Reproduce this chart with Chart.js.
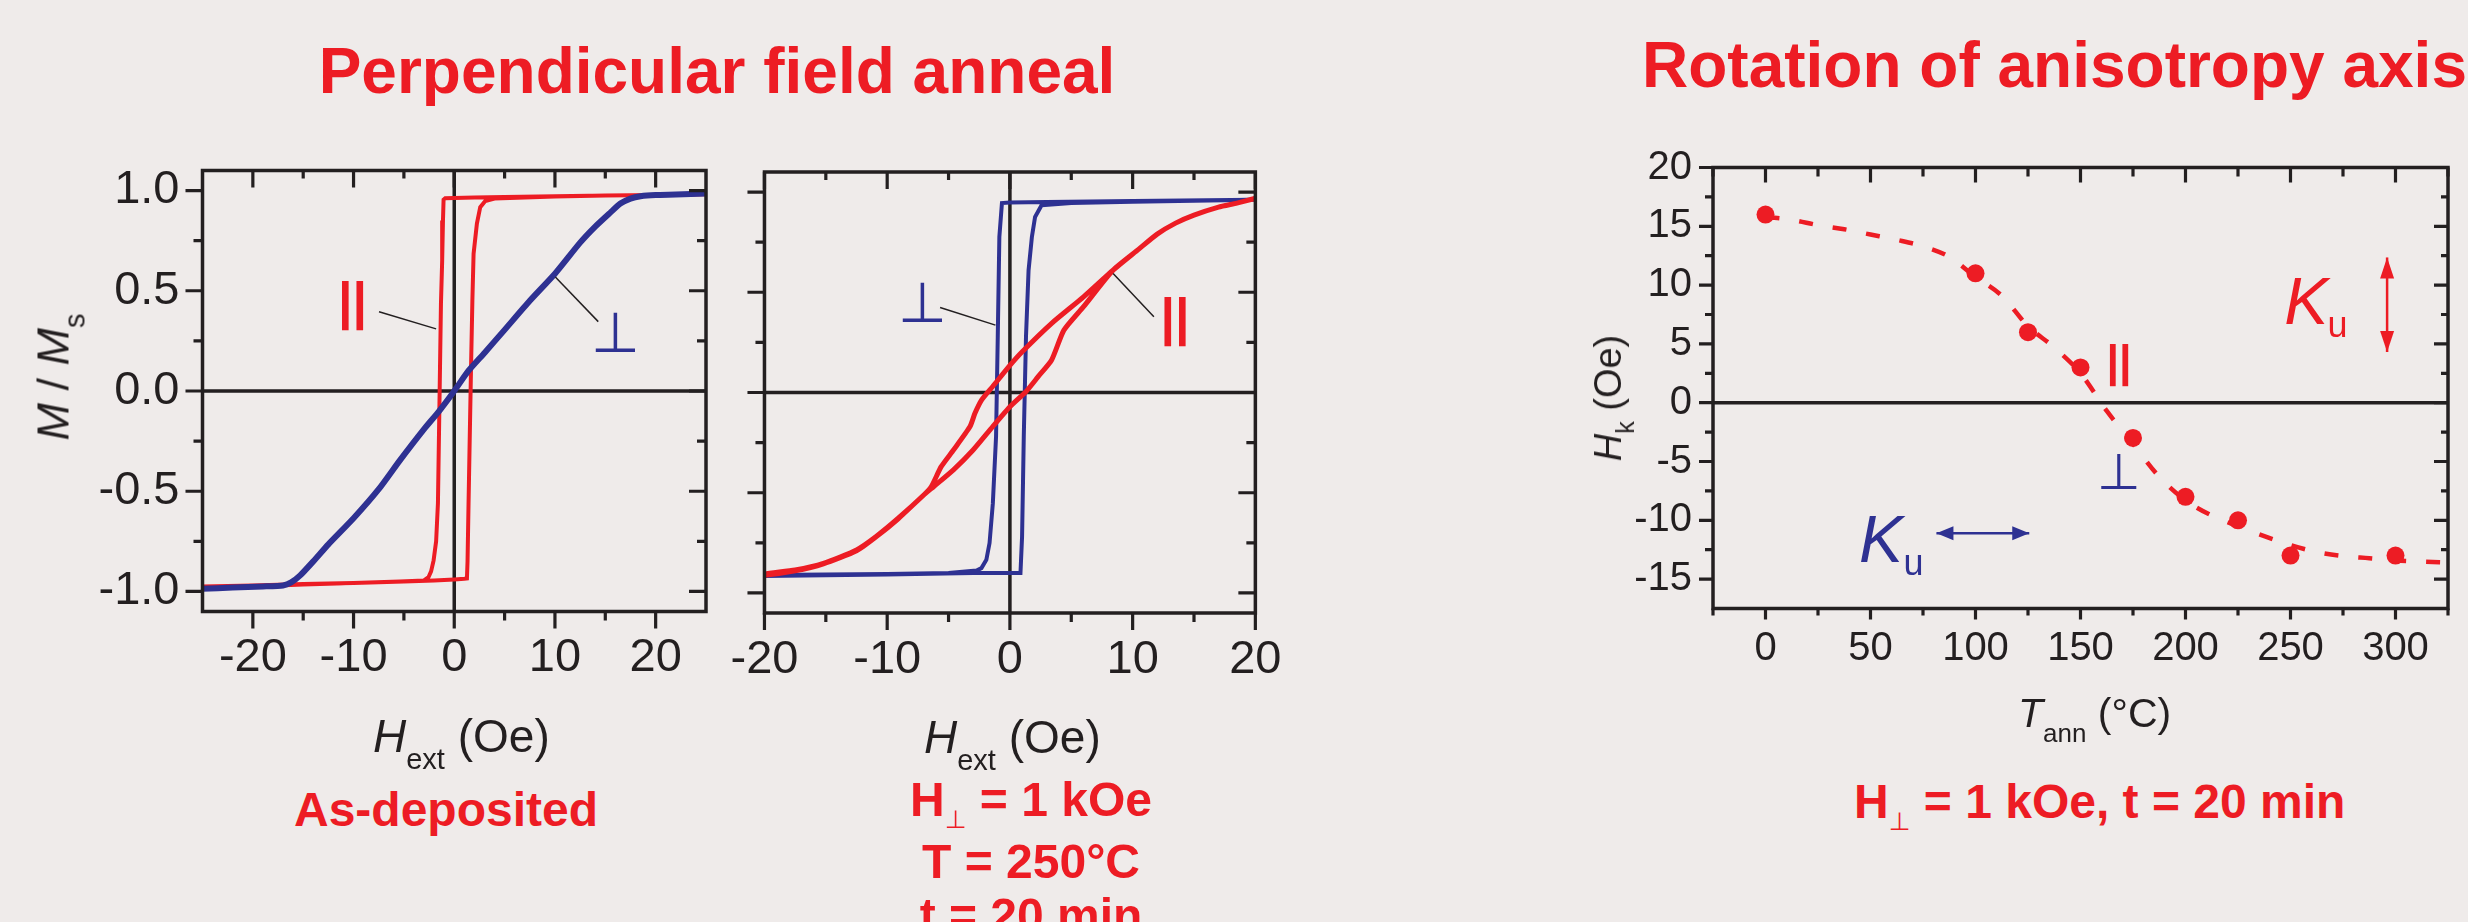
<!DOCTYPE html>
<html>
<head>
<meta charset="utf-8">
<script src="https://cdn.jsdelivr.net/npm/chart.js@4.4.1/dist/chart.umd.min.js"></script>
<style>
  html, body { margin: 0; padding: 0; background: #EFEBEA; overflow: hidden; }
  #page { position: relative; width: 2468px; height: 922px; overflow: hidden; background: #EFEBEA; }
  canvas { position: absolute; }
  .t { position: absolute; white-space: nowrap; font-family: 'Liberation Sans', Arial, sans-serif; line-height: 1; color: #231F20; }
  .red { color: #ED1C24; font-weight: bold; }
  .sub { position: relative; }
  .perp { position: relative; font-family: 'DejaVu Sans', sans-serif; font-weight: normal; }
  .rot { transform: translate(-50%, -50%) rotate(-90deg); }
</style>
</head>
<body>
<div id="page">
  <canvas id="asdep" width="712" height="620" style="left:0;top:100px"></canvas>
  <canvas id="annealed" width="588" height="620" style="left:712px;top:100px"></canvas>
  <canvas id="rotation" width="868" height="620" style="left:1600px;top:100px"></canvas>

  <div class="t red" style="font-size:64px;left:217px;width:1000px;text-align:center;top:38.8px">Perpendicular field anneal</div>
  <div class="t red" style="font-size:64px;left:1642px;top:32.8px">Rotation of anisotropy axis</div>

  <div class="t rot" style="font-size:45px;left:53.4px;top:376.5px"><i>M</i> / <i>M</i><span class="sub" style="font-size:29px;top:16px">s</span></div>
  <div class="t" style="font-size:46px;left:373px;top:713px"><i>H</i><span class="sub" style="font-size:29px;top:17px">ext</span> (Oe)</div>
  <div class="t" style="font-size:46px;left:924px;top:714px"><i>H</i><span class="sub" style="font-size:29px;top:17px">ext</span> (Oe)</div>
  <div class="t red" style="font-size:48px;left:294px;top:786.4px">As-deposited</div>
  <div class="t red" style="font-size:48px;line-height:54px;left:531px;width:1000px;text-align:center;top:773.4px">H<span class="perp" style="font-size:25px;top:12px">⊥</span> = 1 kOe<br>T = 250°C<br>t = 20 min</div>

  <div class="t rot" style="font-size:38px;left:1607.8px;top:397.6px"><i>H</i><span class="sub" style="font-size:25px;top:13px">k</span> (Oe)</div>
  <div class="t" style="font-size:41px;left:2018px;top:693.3px"><i>T</i><span class="sub" style="font-size:26px;top:15px">ann</span> (°C)</div>
  <div class="t red" style="font-size:48px;left:1854px;top:778.4px">H<span class="perp" style="font-size:25px;top:12px">⊥</span> = 1 kOe, t = 20 min</div>
</div>

<script>
const RED = '#ED1C24', BLUE = '#2E3192', INK = '#231F20';
const FONT = "'Liberation Sans', Arial, sans-serif";

// as-deposited film: easy-axis (parallel) loop, descending then ascending branch
const asParH = [25, 20, 15, 10, 5, 2, 0, -0.9, -1.06, -1.12, -1.2, -1.32, -1.45, -1.62, -1.8, -2.05, -2.3, -2.55, -3, -5.4, -10, -15, -20, -25,
                -25, -20, -15, -10, -5, -2, 0, 1.0, 1.26, 1.32, 1.42, 1.55, 1.66, 1.8, 1.92, 2.25, 2.58, 3.08, 4, 10, 15, 20, 25];
const asParM = [0.982, 0.978, 0.975, 0.972, 0.968, 0.965, 0.963, 0.962, 0.955, 0.85, 0.65, 0.436, 0.0, -0.56, -0.75, -0.845, -0.9, -0.928, -0.945, -0.95, -0.958, -0.963, -0.97, -0.975,
                -0.98, -0.975, -0.965, -0.958, -0.95, -0.945, -0.94, -0.937, -0.935, -0.85, -0.56, -0.2, 0.1, 0.45, 0.685, 0.835, 0.917, 0.948, 0.96, 0.97, 0.975, 0.978, 0.982];
// as-deposited film: hard-axis (perpendicular) loop
const asPerpH = [-25, -22, -19, -17, -16.2, -15.3, -14, -12.5, -10, -7.5, -5.4, -3, -1.5, 0, 1.4, 3, 5, 7.5, 10, 12.5, 14, 15.5, 16.5, 17.5, 18.5, 20, 22, 25];
const asPerpM = [-0.987, -0.98, -0.975, -0.97, -0.955, -0.92, -0.85, -0.765, -0.635, -0.49, -0.346, -0.19, -0.1, 0.0, 0.1, 0.19, 0.305, 0.45, 0.585, 0.74, 0.82, 0.89, 0.935, 0.96, 0.972, 0.978, 0.98, 0.985];

// after the 250 °C perpendicular-field anneal: perpendicular loop (now square)
const annPerpH = [20, 10, 3, 0, -0.65, -0.86, -0.99, -1.13, -1.39, -1.66, -1.92, -2.32, -2.72, -5, -10, -20,
                  -20, -10, -3, 0, 0.86, 0.99, 1.13, 1.31, 1.52, 1.79, 2.05, 2.58, 5, 10, 20];
const annPerpM = [0.962, 0.955, 0.95, 0.948, 0.945, 0.776, 0.278, -0.22, -0.552, -0.751, -0.835, -0.876, -0.888, -0.9, -0.905, -0.91,
                  -0.915, -0.908, -0.9, -0.9, -0.9, -0.72, -0.22, 0.278, 0.61, 0.776, 0.876, 0.934, 0.945, 0.952, 0.962];
// ... and parallel loop (now sheared)
const annParH = [20, 18.5, 17, 15, 13.5, 12, 10.5, 8.4, 6, 3.4, 1, 0, -1.4, -2.3, -2.85, -3.25, -4.6, -5.6, -6.4, -7, -9.1, -10.9, -12.5, -15.2, -17.5, -20,
                 -20, -17.5, -15.2, -12.5, -10.9, -9.1, -7, -6.2, -4.6, -3, -1.4, 0, 1.3, 2.3, 3.4, 4.4, 6, 8.4, 10.5, 12, 13.5, 15, 17, 18.5, 20];
const annParM = [0.968, 0.945, 0.925, 0.885, 0.845, 0.79, 0.715, 0.61, 0.477, 0.345, 0.203, 0.135, 0.03, -0.037, -0.104, -0.17, -0.287, -0.37, -0.469, -0.51, -0.627, -0.718, -0.785, -0.852, -0.885, -0.905,
                 -0.912, -0.89, -0.855, -0.79, -0.72, -0.63, -0.51, -0.469, -0.386, -0.287, -0.17, -0.071, 0.004, 0.079, 0.162, 0.311, 0.428, 0.61, 0.715, 0.79, 0.845, 0.885, 0.925, 0.945, 0.97];

// anisotropy field vs anneal temperature, with the guide-to-the-eye curve
const tAnn = [0, 100, 125, 150, 175, 200, 225, 250, 300];
const hk = [16, 11, 6, 3, -3, -8, -10, -13, -13];
const fitT = [0, 12.5, 25, 37.5, 50, 62.5, 75, 87.5, 100, 112.5, 125, 137.5, 150, 162.5, 175, 187.5, 200, 212.5, 225, 237.5, 250, 262.5, 275, 287.5, 300, 312.5, 325];
const fitHk = [15.8, 15.55, 15.1, 14.75, 14.3, 13.85, 13.3, 12.4, 10.7, 9.1, 6.5, 4.7, 2.5, -0.7, -3.5, -6.3, -8.3, -9.6, -10.5, -11.35, -12.1, -12.7, -13.05, -13.23, -13.42, -13.52, -13.6];

// tick values
const loopTicksX = [-20, -10, 0, 10, 20], loopMinorX = [-15, -5, 5, 15];
const loopTicksY = [-1, -0.5, 0, 0.5, 1], loopMinorY = [-0.75, -0.25, 0.25, 0.75];
const tTicks = [0, 50, 100, 150, 200, 250, 300], tMinor = [-25, 25, 75, 125, 175, 225, 275, 325];
const hkTicks = [-15, -10, -5, 0, 5, 10, 15, 20], hkMinor = [-12.5, -7.5, -2.5, 2.5, 7.5, 12.5, 17.5];

function pairs(xs, ys) { return xs.map((x, i) => ({ x: x, y: ys[i] })); }

// closed frame, outward ticks left/bottom, inward ticks top/right, zero lines
const boxTicks = {
  id: 'boxTicks',
  beforeDatasetsDraw(chart, args, o) {
    const { ctx, chartArea: a, scales: { x, y } } = chart;
    ctx.save();
    ctx.strokeStyle = INK;
    ctx.lineWidth = 3.5;
    ctx.beginPath();
    if (o.zeroX) { const px = x.getPixelForValue(0); ctx.moveTo(px, a.top); ctx.lineTo(px, a.bottom); }
    if (o.zeroY) { const py = y.getPixelForValue(0); ctx.moveTo(a.left, py); ctx.lineTo(a.right, py); }
    ctx.stroke();
    ctx.restore();
  },
  afterDatasetsDraw(chart, args, o) {
    const { ctx, chartArea: a, scales: { x, y } } = chart;
    ctx.save();
    ctx.strokeStyle = INK;
    ctx.lineWidth = 3.5;
    ctx.strokeRect(a.left, a.top, a.right - a.left, a.bottom - a.top);
    ctx.lineWidth = 3.2;
    ctx.beginPath();
    const tx = (vals, k) => vals.forEach(v => {
      const p = x.getPixelForValue(v);
      ctx.moveTo(p, a.bottom); ctx.lineTo(p, a.bottom + o.len.bottom[k]);
      ctx.moveTo(p, a.top); ctx.lineTo(p, a.top + o.len.top[k]);
    });
    const ty = (vals, k) => vals.forEach(v => {
      const p = y.getPixelForValue(v);
      ctx.moveTo(a.left - o.len.left[k], p); ctx.lineTo(a.left, p);
      ctx.moveTo(a.right - o.len.right[k], p); ctx.lineTo(a.right, p);
    });
    tx(o.xMajor, 0); tx(o.xMinor, 1);
    ty(o.yMajor, 0); ty(o.yMinor, 1);
    ctx.stroke();
    ctx.restore();
  }
};

// labels, leader lines and arrows placed in data coordinates
const notes = {
  id: 'notes',
  afterDatasetsDraw(chart, args, o) {
    const { ctx, scales: { x, y } } = chart;
    const px = v => x.getPixelForValue(v), py = v => y.getPixelForValue(v);
    ctx.save();
    o.items.forEach(it => {
      if (it.text) {
        ctx.font = it.font;
        ctx.fillStyle = it.color;
        ctx.textAlign = it.align || 'left';
        ctx.textBaseline = 'alphabetic';
        ctx.fillText(it.text, px(it.at[0]) + (it.dx || 0), py(it.at[1]) + (it.dy || 0));
      } else {
        const x1 = px(it.line[0]), y1 = py(it.line[1]), x2 = px(it.line[2]), y2 = py(it.line[3]);
        ctx.strokeStyle = it.color;
        ctx.lineWidth = it.width;
        ctx.beginPath(); ctx.moveTo(x1, y1); ctx.lineTo(x2, y2); ctx.stroke();
        if (it.head) {
          const L = Math.hypot(x2 - x1, y2 - y1), ux = (x2 - x1) / L, uy = (y2 - y1) / L;
          ctx.fillStyle = it.color;
          [[x2, y2, 1], [x1, y1, -1]].forEach(([hx, hy, s]) => {
            const bx = hx - s * ux * it.head[0], by = hy - s * uy * it.head[0];
            ctx.beginPath();
            ctx.moveTo(hx, hy);
            ctx.lineTo(bx - uy * it.head[1], by + ux * it.head[1]);
            ctx.lineTo(bx + uy * it.head[1], by - ux * it.head[1]);
            ctx.closePath(); ctx.fill();
          });
        }
      }
    });
    ctx.restore();
  }
};

function axis(a, dir) {
  return {
    type: 'linear', min: a.min, max: a.max,
    grid: { display: false, drawTicks: false },
    border: { display: false },
    afterBuildTicks: s => { s.ticks = a.ticks.map(v => ({ value: v })); },
    afterFit: s => { if (dir === 'x') s.height = a.size; else s.width = a.size; },
    ticks: {
      display: a.labels !== false, autoSkip: false, maxRotation: 0, padding: a.pad,
      color: INK, font: { family: FONT, size: a.fs },
      callback: a.fmt || (v => String(v))
    }
  };
}

function makeChart(id, c) {
  return new Chart(document.getElementById(id), {
    type: 'scatter',
    data: { datasets: c.datasets },
    plugins: [boxTicks, notes],
    options: {
      responsive: false, animation: false, devicePixelRatio: 1, events: [],
      layout: { padding: { top: c.pad[0], right: c.pad[1], bottom: 0, left: 0 } },
      scales: { x: axis(c.x, 'x'), y: axis(c.y, 'y') },
      plugins: {
        legend: { display: false }, tooltip: { enabled: false },
        boxTicks: c.box,
        notes: { items: c.notes }
      }
    }
  });
}

const loopLen = { bottom: [17, 9], top: [17, 8], left: [17, 9], right: [17, 9] };
const par = size => 'bold ' + size + 'px ' + FONT;
const perp = size => '200 ' + size + "px 'DejaVu Sans', sans-serif";

makeChart('asdep', {
  pad: [70.5, 6],
  x: { min: -25, max: 25, ticks: loopTicksX, size: 108.5, pad: 18.5, fs: 47 },
  y: { min: -1.1, max: 1.1, ticks: loopTicksY, size: 202.5, pad: 23, fs: 47, fmt: v => v.toFixed(1) },
  box: { xMajor: loopTicksX, xMinor: loopMinorX, yMajor: loopTicksY, yMinor: loopMinorY, len: loopLen, zeroX: true, zeroY: true },
  datasets: [
    { data: pairs(asPerpH, asPerpM), showLine: true, borderColor: BLUE, borderWidth: 6, pointRadius: 0, tension: 0.2 },
    { data: pairs(asParH, asParM), showLine: true, borderColor: RED, borderWidth: 4, pointRadius: 0, tension: 0 }
  ],
  notes: [
    { line: [-7.47, 0.395, -1.8, 0.31], color: INK, width: 1.5 },
    { line: [10.04, 0.569, 14.3, 0.346], color: INK, width: 1.5 },
    { text: '||', at: [-11.14, 0.305], dx: -4, dy: -11, font: par(52), color: RED },
    { text: '⊥', at: [15.98, 0.194], align: 'center', font: perp(56), color: BLUE }
  ]
});

makeChart('annealed', {
  pad: [72, 41],
  x: { min: -20, max: 20, ticks: loopTicksX, size: 107, pad: 18.5, fs: 47 },
  y: { min: -1.1, max: 1.1, ticks: loopTicksY, size: 44, labels: false },
  box: { xMajor: loopTicksX, xMinor: loopMinorX, yMajor: loopTicksY, yMinor: loopMinorY, len: loopLen, zeroX: true, zeroY: true },
  datasets: [
    { data: pairs(annParH, annParM), showLine: true, borderColor: RED, borderWidth: 5, pointRadius: 0, tension: 0.2 },
    { data: pairs(annPerpH, annPerpM), showLine: true, borderColor: BLUE, borderWidth: 4, pointRadius: 0, tension: 0 }
  ],
  notes: [
    { line: [-5.69, 0.424, -1.18, 0.336], color: INK, width: 1.5 },
    { line: [8.41, 0.594, 11.73, 0.378], color: INK, width: 1.5 },
    { text: '⊥', at: [-7.09, 0.35], align: 'center', font: perp(56), color: BLUE },
    { text: '||', at: [12.6, 0.232], dx: -4, dy: -11, font: par(52), color: RED }
  ]
});

makeChart('rotation', {
  pad: [67.5, 20],
  x: { min: -25, max: 325, ticks: tTicks, size: 111.5, pad: 16, fs: 40 },
  y: { min: -17.5, max: 20, ticks: hkTicks, size: 113, pad: 21, fs: 40 },
  box: { xMajor: tTicks, xMinor: tMinor, yMajor: hkTicks, yMinor: hkMinor,
         len: { bottom: [11, 7], top: [15, 9], left: [14, 8], right: [14, 7] }, zeroX: false, zeroY: true },
  datasets: [
    { data: pairs(tAnn, hk), pointRadius: 9, pointBackgroundColor: RED, pointBorderWidth: 0, showLine: false },
    { data: pairs(fitT, fitHk), showLine: true, borderColor: RED, borderWidth: 4.5, borderDash: [14, 20], pointRadius: 0, tension: 0.4, cubicInterpolationMode: 'monotone' }
  ],
  notes: [
    { text: '||', at: [164, 1.43], dx: -3.5, dy: -9.5, font: par(45), color: RED },
    { text: '⊥', at: [168.5, -7.37], align: 'center', font: perp(50), color: BLUE },
    { text: 'K', at: [248, 6.67], dx: -2, font: 'italic 66px ' + FONT, color: RED },
    { text: 'u', at: [267.6, 5.58], font: '36px ' + FONT, color: RED },
    { text: 'K', at: [45.5, -13.53], dx: -2, font: 'italic 66px ' + FONT, color: BLUE },
    { text: 'u', at: [65.7, -14.65], font: '36px ' + FONT, color: BLUE },
    { line: [296, 12.35, 296, 4.31], color: RED, width: 2.5, head: [21, 7] },
    { line: [81.4, -11.1, 125.6, -11.1], color: BLUE, width: 2.5, head: [17, 7] }
  ]
});
</script>
</body>
</html>
